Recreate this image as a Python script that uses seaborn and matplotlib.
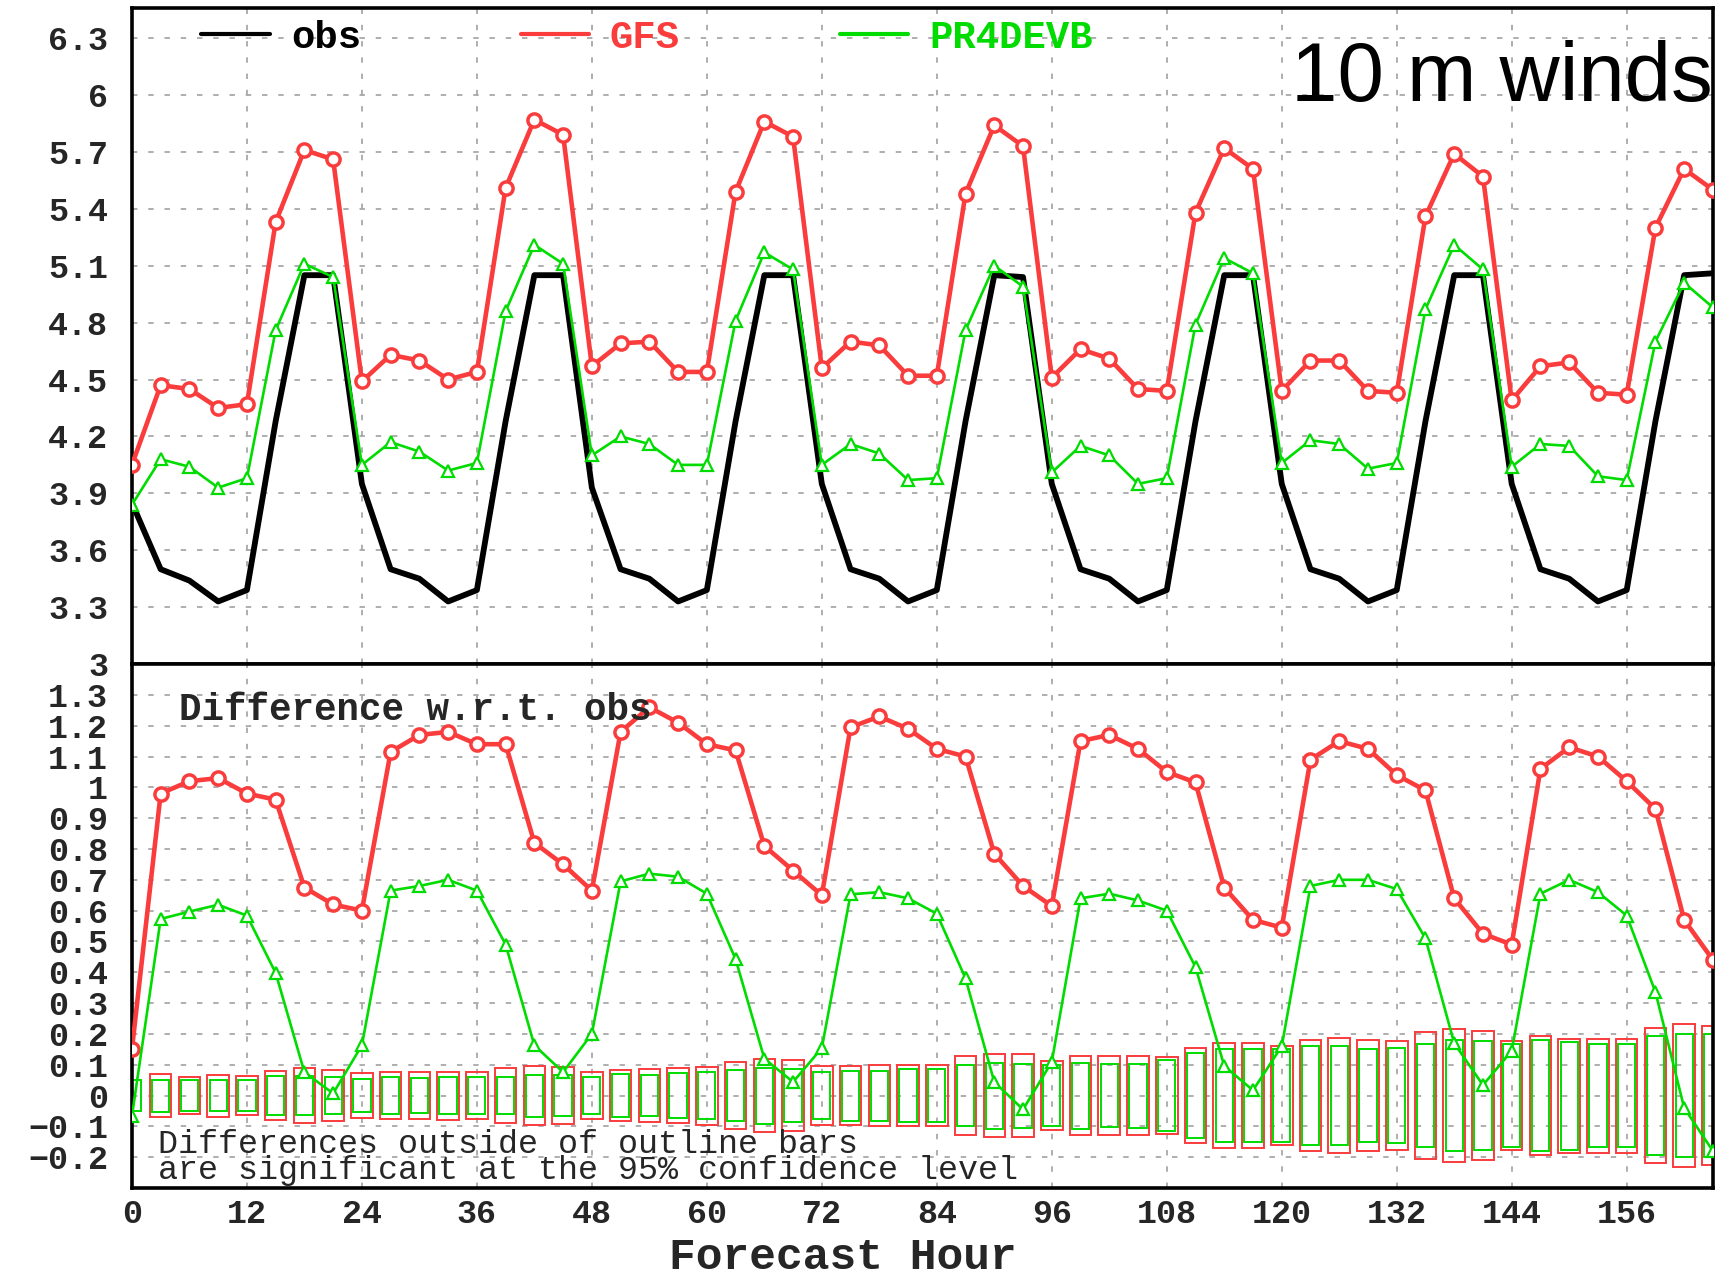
import numpy as np
import matplotlib
matplotlib.use("Agg")
import matplotlib.pyplot as plt
import seaborn as sns
from matplotlib.lines import Line2D

# ---------------- data ----------------
hours = list(range(0, 166, 3))

obs = [3.85, 3.50, 3.44, 3.33, 3.39, 4.28, 5.05, 5.05,
       3.95, 3.50, 3.45, 3.33, 3.39, 4.28, 5.05, 5.05,
       3.93, 3.50, 3.45, 3.33, 3.39, 4.28, 5.05, 5.05,
       3.95, 3.50, 3.45, 3.33, 3.39, 4.28, 5.05, 5.04,
       3.95, 3.50, 3.45, 3.33, 3.39, 4.28, 5.05, 5.05,
       3.95, 3.50, 3.45, 3.33, 3.39, 4.28, 5.05, 5.05,
       3.95, 3.50, 3.45, 3.33, 3.39, 4.28, 5.05, 5.06]

gfs = [4.05, 4.47, 4.45, 4.35, 4.37, 5.33, 5.71, 5.66,
       4.49, 4.63, 4.60, 4.50, 4.54, 5.51, 5.87, 5.79,
       4.57, 4.69, 4.70, 4.54, 4.54, 5.49, 5.86, 5.78,
       4.56, 4.70, 4.68, 4.52, 4.52, 5.48, 5.84, 5.73,
       4.51, 4.66, 4.61, 4.45, 4.44, 5.38, 5.72, 5.61,
       4.44, 4.60, 4.60, 4.44, 4.43, 5.36, 5.69, 5.57,
       4.39, 4.57, 4.59, 4.43, 4.42, 5.30, 5.61, 5.50]

pr4devb = [3.84, 4.08, 4.04, 3.93, 3.98, 4.76, 5.11, 5.04,
           4.05, 4.17, 4.12, 4.02, 4.06, 4.86, 5.21, 5.11,
           4.10, 4.20, 4.16, 4.05, 4.05, 4.81, 5.17, 5.08,
           4.05, 4.16, 4.11, 3.97, 3.98, 4.76, 5.10, 4.99,
           4.01, 4.15, 4.10, 3.95, 3.98, 4.79, 5.14, 5.06,
           4.06, 4.18, 4.16, 4.03, 4.06, 4.87, 5.21, 5.08,
           4.04, 4.16, 4.15, 3.99, 3.97, 4.70, 5.01, 4.88]

gfs_diff = [0.15, 0.98, 1.02, 1.03, 0.98, 0.96, 0.675, 0.62,
            0.60, 1.115, 1.17, 1.18, 1.14, 1.14, 0.82, 0.75,
            0.665, 1.18, 1.26, 1.21, 1.14, 1.12, 0.81, 0.73,
            0.65, 1.195, 1.23, 1.19, 1.125, 1.10, 0.785, 0.68,
            0.615, 1.15, 1.17, 1.125, 1.05, 1.016, 0.675, 0.57,
            0.545, 1.09, 1.15, 1.125, 1.04, 0.99, 0.64, 0.525,
            0.49, 1.06, 1.13, 1.10, 1.02, 0.93, 0.57, 0.44]

pr4devb_diff = [-0.067, 0.573, 0.597, 0.619, 0.584, 0.398, 0.076, 0.007,
                0.163, 0.665, 0.68, 0.70, 0.665, 0.49, 0.163, 0.076,
                0.20, 0.695, 0.72, 0.71, 0.655, 0.443, 0.12, 0.044,
                0.154, 0.653, 0.66, 0.64, 0.59, 0.38, 0.044, -0.045,
                0.109, 0.64, 0.655, 0.633, 0.60, 0.417, 0.096, 0.017,
                0.16, 0.68, 0.70, 0.70, 0.67, 0.51, 0.17, 0.034,
                0.145, 0.655, 0.70, 0.66, 0.584, 0.336, -0.04, -0.18]

# half-height of the 95% confidence outline bars
gfs_ci = [np.nan, 0.069, 0.060, 0.068, 0.064, 0.080, 0.088, 0.084,
          0.074, 0.076, 0.076, 0.078, 0.077, 0.088, 0.096, 0.092,
          0.075, 0.082, 0.087, 0.088, 0.094, 0.108, 0.118, 0.114,
          0.095, 0.095, 0.100, 0.100, 0.100, 0.128, 0.134, 0.134,
          0.112, 0.128, 0.128, 0.128, 0.125, 0.153, 0.170, 0.170,
          0.162, 0.180, 0.186, 0.180, 0.176, 0.206, 0.216, 0.210,
          0.178, 0.192, 0.185, 0.185, 0.185, 0.218, 0.232, 0.226]

pr4devb_ci = [0.050, 0.052, 0.050, 0.051, 0.051, 0.062, 0.062, 0.060,
              0.053, 0.060, 0.058, 0.060, 0.060, 0.061, 0.068, 0.067,
              0.061, 0.070, 0.067, 0.072, 0.076, 0.084, 0.091, 0.087,
              0.076, 0.081, 0.081, 0.085, 0.085, 0.100, 0.107, 0.104,
              0.100, 0.107, 0.102, 0.104, 0.115, 0.137, 0.150, 0.152,
              0.150, 0.160, 0.160, 0.152, 0.155, 0.167, 0.180, 0.178,
              0.167, 0.180, 0.175, 0.167, 0.168, 0.193, 0.200, 0.200]

xticks = [0, 12, 24, 36, 48, 60, 72, 84, 96, 108, 120, 132, 144, 156]
top_yticks = [3.0, 3.3, 3.6, 3.9, 4.2, 4.5, 4.8, 5.1, 5.4, 5.7, 6.0, 6.3]
top_yticklabels = ["3", "3.3", "3.6", "3.9", "4.2", "4.5", "4.8", "5.1",
                   "5.4", "5.7", "6", "6.3"]
bot_yticks = [-0.2, -0.1, 0.0, 0.1, 0.2, 0.3, 0.4, 0.5, 0.6, 0.7, 0.8,
              0.9, 1.0, 1.1, 1.2, 1.3]
bot_yticklabels = ["\u22120.2", "\u22120.1", "0", "0.1", "0.2", "0.3", "0.4",
                   "0.5", "0.6", "0.7", "0.8", "0.9", "1", "1.1", "1.2", "1.3"]
series_names = ["obs", "GFS", "PR4DEVB"]
note_text = ("Differences outside of outline bars\n"
             "are significant at the 95% confidence level")

# ---------------- style ----------------
RED = "#FA3C3C"
GREEN = "#00DC00"
sns.set_style("white")
plt.rcParams["font.family"] = ["Liberation Mono", "DejaVu Sans"]
plt.rcParams["axes.unicode_minus"] = True

fig = plt.figure(figsize=(17.29, 12.82), dpi=100)
ax1 = fig.add_axes([0.0763, 0.482, 0.9144, 0.512])
ax2 = fig.add_axes([0.0763, 0.0733, 0.9144, 0.4087])

grid_kw = dict(color="#a8a8a8", linestyle=(0, (3, 6)), linewidth=1.3)

for ax in (ax1, ax2):
    ax.set_xlim(0, 165)
    ax.set_xticks(xticks)
    ax.grid(True, **grid_kw)
    ax.set_axisbelow(True)
    for s in ax.spines.values():
        s.set_visible(True)
        s.set_color("black")
        s.set_linewidth(2.6)
    ax.tick_params(direction="out", length=5, width=1.5, color="black",
                   labelsize=24, pad=12)
    ax.set_xlabel("")
    ax.set_ylabel("")

# ---------------- top panel ----------------
sns.lineplot(x=hours, y=obs, ax=ax1, color="black", linewidth=4.2,
             legend=False, zorder=3)
sns.lineplot(x=hours, y=gfs, ax=ax1, color=RED, linewidth=3.3, marker="o",
             markersize=9.5, markerfacecolor="white", markeredgecolor=RED,
             markeredgewidth=2.5, legend=False, zorder=4)
sns.lineplot(x=hours, y=pr4devb, ax=ax1, color=GREEN, linewidth=1.9,
             marker="^", markersize=9, markerfacecolor="white",
             markeredgecolor=GREEN, markeredgewidth=1.6, legend=False, zorder=5)
ax1.set_ylim(3.0, 6.46)
ax1.set_yticks(top_yticks)
ax1.set_yticklabels(top_yticklabels, fontweight="bold")
ax1.tick_params(axis="x", labelbottom=False)
ax1.set_xlabel("")

handles = [Line2D([], [], color="black", linewidth=3.0),
           Line2D([], [], color=RED, linewidth=3.0),
           Line2D([], [], color=GREEN, linewidth=3.0)]
leg = ax1.legend(handles, series_names, loc="upper left",
                 bbox_to_anchor=(0.044, 0.982), ncol=3, frameon=False,
                 prop=dict(family="Liberation Mono", weight="bold", size=28),
                 handlelength=1.75, handletextpad=0.55, columnspacing=4.1,
                 borderpad=0.0, borderaxespad=0.0, labelcolor="linecolor")

fig.text(0.9905, 1 - 101 / 1282, "10 m winds", ha="right", va="baseline",
         fontsize=60, family="Liberation Sans", color="black")

# ---------------- bottom panel ----------------
g_h = [h for h, c in zip(hours, gfs_ci) if not np.isnan(c)]
g_c = [c for c in gfs_ci if not np.isnan(c)]
ax2.bar(g_h, [2 * c for c in g_c], bottom=[-c for c in g_c], width=2.25,
        fill=False, edgecolor=RED, linewidth=1.4, zorder=2)
ax2.bar(hours, [2 * c for c in pr4devb_ci], bottom=[-c for c in pr4devb_ci],
        width=1.8, fill=False, edgecolor=GREEN, linewidth=1.4, zorder=2.5)

sns.lineplot(x=hours, y=gfs_diff, ax=ax2, color=RED, linewidth=3.3,
             marker="o", markersize=9.5, markerfacecolor="white",
             markeredgecolor=RED, markeredgewidth=2.5, legend=False, zorder=4)
sns.lineplot(x=hours, y=pr4devb_diff, ax=ax2, color=GREEN, linewidth=1.9,
             marker="^", markersize=9, markerfacecolor="white",
             markeredgecolor=GREEN, markeredgewidth=1.6, legend=False, zorder=5)

ax2.set_ylim(-0.3, 1.4)
ax2.set_yticks(bot_yticks)
ax2.set_yticklabels(bot_yticklabels, fontweight="bold")
ax2.set_xticklabels([str(x) for x in xticks], fontweight="bold")
ax2.tick_params(axis="x", pad=3)

ax2.text(0.030, 0.913, "Difference w.r.t. obs", transform=ax2.transAxes,
         fontsize=27, fontweight="bold", va="center", ha="left", zorder=6)
ax2.text(0.0164, 0.058, note_text, transform=ax2.transAxes, fontsize=24,
         va="center", ha="left", linespacing=0.8, zorder=6)

ax2.set_xlabel("Forecast Hour", fontsize=32, fontweight="bold")
ax2.xaxis.set_label_coords(0.45, -0.132)
ax2.xaxis.label.set_verticalalignment("center")

fig.savefig("out.png", dpi=100)
